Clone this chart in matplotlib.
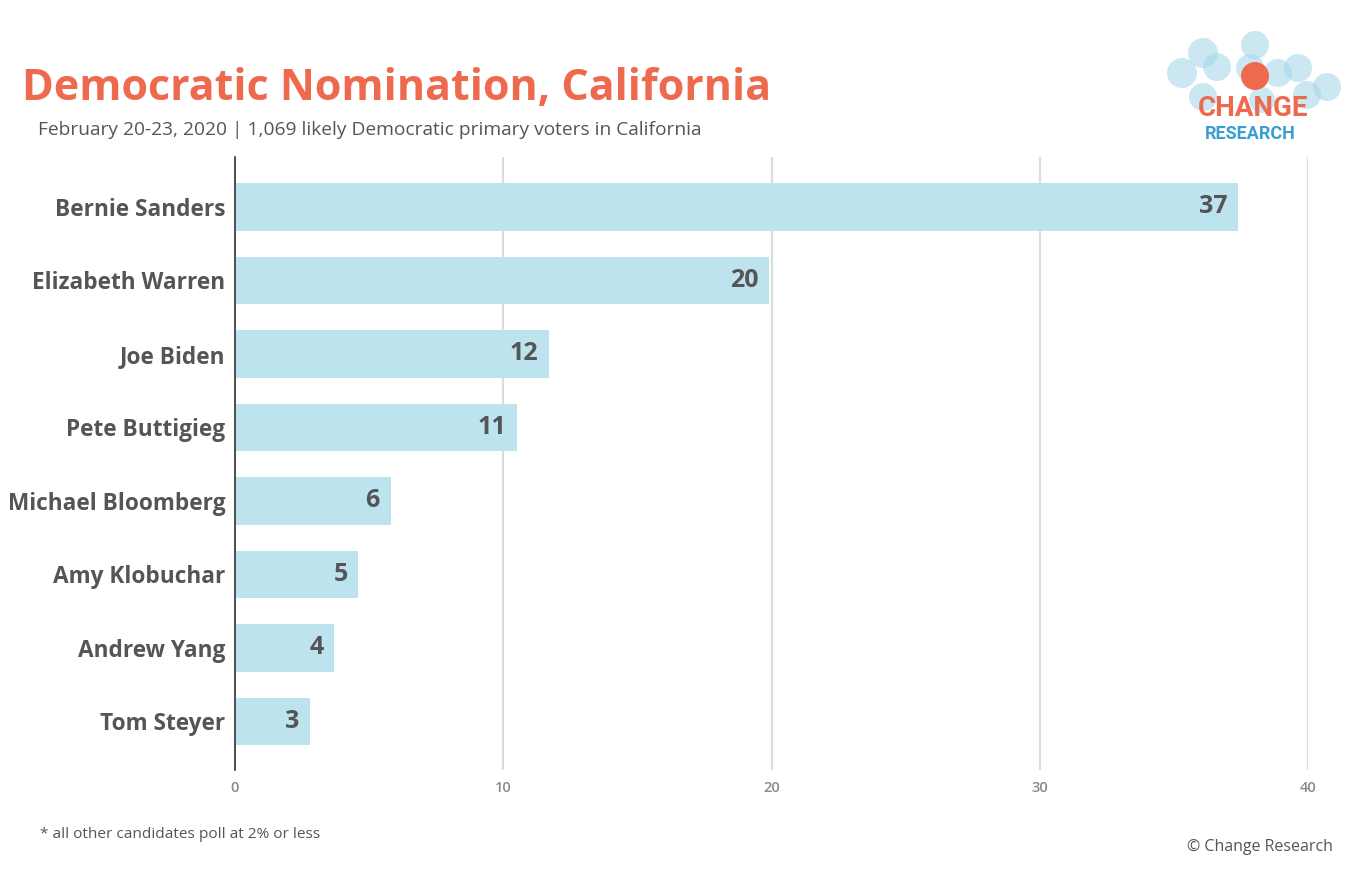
import matplotlib.pyplot as plt
from matplotlib.patches import Circle

# values (bar lengths) and the labels printed on them
candidates = ["Bernie Sanders", "Elizabeth Warren", "Joe Biden", "Pete Buttigieg",
              "Michael Bloomberg", "Amy Klobuchar", "Andrew Yang", "Tom Steyer"]
support = [37.4, 19.9, 11.7, 10.5, 5.8, 4.6, 3.7, 2.8]
support_labels = ["37", "20", "12", "11", "6", "5", "4", "3"]
x_ticks = [0, 10, 20, 30, 40]

W, H = 1363, 883
BAR = "#bde3ef"
DARK = "#555558"
ORANGE = "#ee6a4f"
FONT = ["Open Sans", "DejaVu Sans"]

plt.rcParams["font.family"] = FONT

fig = plt.figure(figsize=(W / 100, H / 100), dpi=100)
ax = fig.add_axes([235 / W, 1 - 770 / H, (1308 - 235) / W, (770 - 157) / H])

ypos = list(range(len(candidates)))
ax.barh(ypos, support, height=0.64, color=BAR, zorder=2)
for y, v, lab in zip(ypos, support, support_labels):
    ax.text(v - 0.4, y, lab, ha="right", va="center", fontsize=18,
            fontweight="bold", color=DARK, zorder=3)

ax.set_xlim(0, 40)
ax.set_ylim(7.66, -0.68)
ax.set_xticks(x_ticks)
ax.set_xticklabels([str(t) for t in x_ticks], color="#8a8a8a", fontsize=10.5,
                   fontweight="semibold")
ax.set_yticks(ypos)
ax.set_yticklabels(candidates, fontsize=16.3, fontweight="bold", color=DARK)
ax.tick_params(axis="both", length=0)
ax.tick_params(axis="x", pad=8)
ax.tick_params(axis="y", pad=7)
ax.xaxis.grid(True, color="#dcdcdc", linewidth=1.6, zorder=0)
for s in ["top", "right", "bottom"]:
    ax.spines[s].set_visible(False)
ax.spines["left"].set_color("#333333")
ax.spines["left"].set_linewidth(1.2)
ax.spines["left"].set_zorder(4)

# titles and notes
fig.text(22 / W, 1 - 100 / H, "Democratic Nomination, California", fontsize=31,
         fontweight="bold", color=ORANGE, ha="left", va="baseline")
fig.text(38 / W, 1 - 130 / H,
         "February 20-23, 2020 | 1,069 likely Democratic primary voters in California",
         fontsize=13.8, color=DARK, ha="left", va="center")
fig.text(40 / W, 1 - 835 / H, "* all other candidates poll at 2% or less",
         fontsize=11.1, color=DARK, ha="left", va="center")
fig.text(1333 / W, 1 - 847 / H, "\u00a9 Change Research",
         fontsize=11.5, color=DARK, ha="right", va="center")

# logo
lax = fig.add_axes([0, 0, 1, 1], zorder=-1)
lax.set_xlim(0, W)
lax.set_ylim(H, 0)
lax.axis("off")
bubbles = [(1182, 73, 15), (1203, 53, 15), (1217, 67, 14), (1255, 45, 14),
           (1250, 68, 14), (1278, 73, 14), (1298, 68, 14), (1327, 87, 14),
           (1203, 97, 14), (1307, 95, 14), (1262, 100, 13)]
for bx, by, r in bubbles:
    lax.add_patch(Circle((bx, by), r, color="#a9d7ea", alpha=0.6, lw=0))
lax.add_patch(Circle((1255, 76), 14, color=ORANGE, lw=0))
lax.text(1253, 108, "CHANGE", ha="center", va="center", fontsize=20,
         fontweight="bold", color=ORANGE, family=["Roboto", "DejaVu Sans"])
lax.text(1250, 134, "RESEARCH", ha="center", va="center", fontsize=13,
         fontweight="bold", color="#3a9fd0", family=["Roboto", "DejaVu Sans"])

fig.savefig("out.png", dpi=100, facecolor="white")
